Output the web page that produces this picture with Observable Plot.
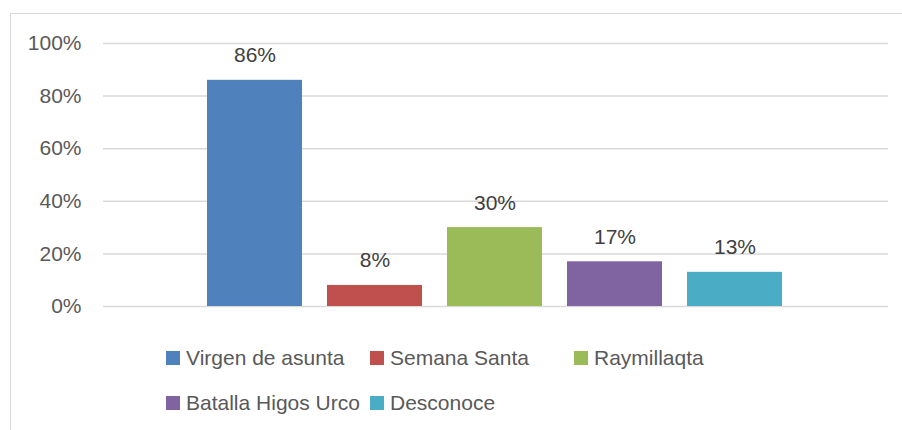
<!DOCTYPE html>
<html>
<head>
<meta charset="utf-8">
<script src="https://cdn.jsdelivr.net/npm/d3@7"></script>
<script src="https://cdn.jsdelivr.net/npm/@observablehq/plot@0.6"></script>
<style>
  html, body { margin: 0; padding: 0; background: #fff; width: 902px; height: 430px; overflow: hidden; }
  #frame { position: absolute; left: 10px; top: 13px; width: 900px; height: 430px; border: 1px solid #d9d9d9; box-sizing: border-box; }
  #chart { position: absolute; left: 0; top: 0; }
  #legend { position: absolute; left: 166px; top: 335px; display: grid; grid-template-columns: 204px 204px 204px; grid-auto-rows: 45px;
            font-family: "Liberation Sans", Arial, sans-serif; font-size: 21px; color: #595959; }
  .item { display: flex; align-items: center; white-space: nowrap; }
  .sw { width: 14px; height: 14px; margin-right: 6px; flex: none; }
</style>
</head>
<body>
<div id="frame"></div>
<div id="chart"></div>
<div id="legend"></div>
<script>
const categories = ["Virgen de asunta", "Semana Santa", "Raymillaqta", "Batalla Higos Urco", "Desconoce"];
const values = [0.86, 0.08, 0.30, 0.17, 0.13];
const colors = ["#4f81bd", "#c0504d", "#9bbb59", "#8064a2", "#4bacc6"];
const yTicks = [0, 0.2, 0.4, 0.6, 0.8, 1.0];

const data = categories.map((c, i) => ({category: c, value: values[i]}));
const pct = d3.format(".0%");

const chart = Plot.plot({
  width: 902,
  height: 320,
  marginLeft: 103,
  marginRight: 14,
  marginTop: 43,
  marginBottom: 14,
  style: {fontFamily: "'Liberation Sans', Arial, sans-serif", fontSize: "21px", background: "transparent"},
  x: {domain: categories, range: [180, 808], padding: 0.21, axis: null},
  y: {domain: [0, 1], ticks: yTicks, tickFormat: pct, label: null},
  color: {domain: categories, range: colors},
  marks: [
    Plot.ruleY(yTicks, {stroke: "#d9d9d9", strokeWidth: 1.5}),
    Plot.barY(data, {x: "category", y: "value", fill: "category"}),
    Plot.text(data, {x: "category", y: "value", text: d => pct(d.value), lineAnchor: "bottom", dy: -18, fill: "#404040", fontSize: 21}),
    Plot.axisY({ticks: yTicks, tickFormat: pct, tickSize: 0, tickPadding: 22, fill: "#595959", fontSize: 21, label: null})
  ]
});
document.getElementById("chart").appendChild(chart);

const legend = document.getElementById("legend");
categories.forEach((c, i) => {
  const item = document.createElement("div");
  item.className = "item";
  const sw = document.createElement("span");
  sw.className = "sw";
  sw.style.background = colors[i];
  item.appendChild(sw);
  item.appendChild(document.createTextNode(c));
  legend.appendChild(item);
});
</script>
</body>
</html>
